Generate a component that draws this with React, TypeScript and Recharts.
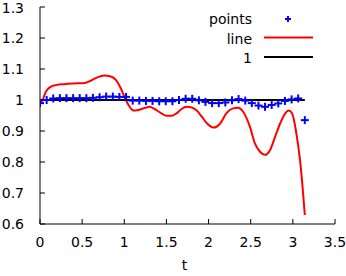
import React from 'react';
import { ComposedChart, Line, Scatter, XAxis, YAxis } from 'recharts';

const xTicks = [0, 0.5, 1, 1.5, 2, 2.5, 3, 3.5];
const yTicks = [0.6, 0.7, 0.8, 0.9, 1, 1.1, 1.2, 1.3];

const pointT = [
  0, 0.079, 0.157, 0.236, 0.314, 0.393, 0.471, 0.55, 0.628, 0.707, 0.785,
  0.864, 0.942, 1.021, 1.1, 1.178, 1.257, 1.335, 1.414, 1.492, 1.571,
  1.649, 1.728, 1.806, 1.885, 1.963, 2.042, 2.121, 2.199, 2.278, 2.356,
  2.435, 2.513, 2.592, 2.67, 2.749, 2.827, 2.906, 2.985, 3.063, 3.142,
];
const pointV = [
  0.99, 1.0, 1.005, 1.006, 1.006, 1.006, 1.006, 1.006, 1.007, 1.009, 1.011,
  1.011, 1.01, 1.01, 0.998, 0.998, 0.997, 0.997, 0.996, 0.996, 0.996,
  1.0, 1.004, 1.004, 0.999, 0.994, 0.99, 0.99, 0.992, 0.999, 1.003,
  0.998, 0.99, 0.982, 0.978, 0.984, 0.989, 0.997, 1.002, 1.005, 0.935,
];

const lineT = [
  0, 0.03, 0.07, 0.13, 0.19, 0.29, 0.39, 0.53, 0.6, 0.68, 0.76, 0.84, 0.9,
  0.96, 1.01, 1.05, 1.11, 1.17, 1.25, 1.3, 1.36, 1.44, 1.5, 1.56, 1.62,
  1.68, 1.74, 1.8, 1.86, 1.92, 1.98, 2.06, 2.14, 2.21, 2.29, 2.35, 2.41,
  2.49, 2.55, 2.61, 2.67, 2.73, 2.79, 2.85, 2.91, 2.95, 2.99, 3.04, 3.085,
  3.115, 3.142,
];
const lineV = [
  0.99, 1.0, 1.027, 1.043, 1.048, 1.051, 1.053, 1.055, 1.062, 1.073, 1.079,
  1.076, 1.065, 1.037, 1.005, 0.984, 0.966, 0.968, 0.975, 0.978, 0.971,
  0.957, 0.949, 0.949, 0.957, 0.971, 0.978, 0.976, 0.966, 0.946, 0.925,
  0.911, 0.925, 0.957, 0.973, 0.975, 0.962, 0.914, 0.86, 0.833, 0.823,
  0.839, 0.882, 0.925, 0.957, 0.966, 0.957, 0.895, 0.806, 0.72, 0.629,
];

const oneT = [0, 3.142];
const oneV = [1, 1];

const legendLabels = ['points', 'line', '1'];

const pointsData = pointT.map((t, i) => ({ t, v: pointV[i] }));
const lineData = lineT.map((t, i) => ({ t, v: lineV[i] }));
const oneData = oneT.map((t, i) => ({ t, v: oneV[i] }));

const BLUE = '#0000ff';
const RED = '#ff0000';
const FONT = 'DejaVu Sans';

const Plus = (props: any) => {
  const { cx, cy } = props;
  if (cx == null || cy == null) return null;
  return (
    <g>
      <line x1={cx - 4} y1={cy} x2={cx + 4} y2={cy} stroke={BLUE} strokeWidth={2} />
      <line x1={cx} y1={cy - 4} x2={cx} y2={cy + 4} stroke={BLUE} strokeWidth={2} />
    </g>
  );
};

const tickStyle = { fontSize: 14, fill: '#000', fontFamily: FONT };

export default function App() {
  return (
    <div style={{ position: 'absolute', left: 0, top: 0, width: 346, height: 276, background: '#fff' }}>
      <ComposedChart
        width={346}
        height={276}
        margin={{ top: 7, right: 11, left: 0, bottom: 0 }}
        style={{ fontFamily: FONT }}
      >
        <XAxis
          xAxisId={0}
          dataKey="t"
          type="number"
          domain={[0, 3.5]}
          ticks={xTicks}
          allowDataOverflow
          height={52}
          tickSize={-5}
          tickMargin={18}
          stroke="#000"
          tick={tickStyle}
          tickFormatter={(v: number) => String(v)}
          label={{ value: 't', position: 'insideBottom', offset: 6, dx: -3, fontSize: 14, fill: '#000', fontFamily: FONT }}
        />
        <XAxis
          xAxisId="top"
          orientation="top"
          type="number"
          domain={[0, 3.5]}
          ticks={xTicks}
          allowDataOverflow
          height={0}
          tickSize={-5}
          tick={false}
          stroke="#000"
        />
        <YAxis
          yAxisId={0}
          type="number"
          domain={[0.6, 1.3]}
          ticks={yTicks}
          allowDataOverflow
          width={40}
          tickSize={-5}
          tickMargin={21}
          stroke="#000"
          tick={tickStyle}
          tickFormatter={(v: number) => String(Math.round(v * 10) / 10)}
        />
        <YAxis
          yAxisId="right"
          orientation="right"
          type="number"
          domain={[0.6, 1.3]}
          ticks={yTicks}
          allowDataOverflow
          width={0}
          tickSize={-5}
          tick={false}
          stroke="#000"
        />
        <Scatter
          data={pointsData}
          dataKey="v"
          xAxisId={0}
          yAxisId={0}
          shape={<Plus />}
          isAnimationActive={false}
        />
        <Line
          data={lineData}
          dataKey="v"
          xAxisId={0}
          yAxisId={0}
          type="monotone"
          stroke={RED}
          strokeWidth={2}
          dot={false}
          activeDot={false}
          isAnimationActive={false}
        />
        <Line
          data={oneData}
          dataKey="v"
          xAxisId={0}
          yAxisId={0}
          type="linear"
          stroke="#000"
          strokeWidth={2}
          dot={false}
          activeDot={false}
          isAnimationActive={false}
        />
      </ComposedChart>
      <svg
        width={346}
        height={276}
        style={{ position: 'absolute', left: 0, top: 0, pointerEvents: 'none' }}
      >
        <text x={252} y={24} textAnchor="end" fontSize={14} fontFamily={FONT} fill="#000">
          {legendLabels[0]}
        </text>
        <line x1={285} y1={19} x2={291} y2={19} stroke={BLUE} strokeWidth={2} />
        <line x1={288} y1={16} x2={288} y2={22} stroke={BLUE} strokeWidth={2} />
        <text x={252} y={43.5} textAnchor="end" fontSize={14} fontFamily={FONT} fill="#000">
          {legendLabels[1]}
        </text>
        <line x1={264} y1={37.5} x2={313} y2={37.5} stroke={RED} strokeWidth={2} />
        <text x={252} y={63} textAnchor="end" fontSize={14} fontFamily={FONT} fill="#000">
          {legendLabels[2]}
        </text>
        <line x1={264} y1={57} x2={313} y2={57} stroke="#000" strokeWidth={2} />
      </svg>
    </div>
  );
}
